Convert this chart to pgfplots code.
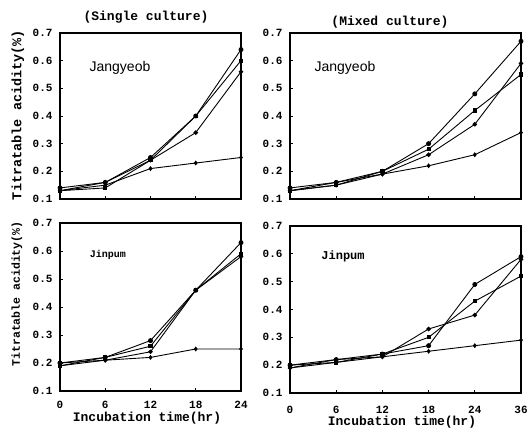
\documentclass[border=0pt]{standalone}
\usepackage{fontspec}
\setmainfont{Liberation Mono}
\newfontfamily\sans{Liberation Sans}
\usepackage{pgfplots}
\pgfplotsset{compat=1.18}
\pgfplotsset{
  panel/.style={
    scale only axis, anchor=south west,
    ymin=0.1, ymax=0.7, ytick={0.1,0.2,...,0.7},
    axis line style={line width=1.6pt}, tick style={line width=0.8pt, black},
    major tick length=3pt, xtick pos=bottom, ytick pos=left,
    tick align=inside,
    /pgf/number format/assume math mode=true,
    ticklabel style={font=\fontsize{11}{12}\selectfont\bfseries},
    yticklabel style={/pgf/number format/fixed, /pgf/number format/fixed zerofill, /pgf/number format/precision=1, xshift=-4pt},
    every axis plot/.append style={black, line width=0.9pt, mark options={solid}},
  },
  s1/.style={mark=diamond*, mark size=1.8pt},
  s2/.style={mark=*, mark size=2pt},
  s3/.style={mark=square*, mark size=1.6pt},
  s4/.style={mark=*, mark size=1.8pt},
}
\begin{document}
\begin{tikzpicture}[x=1pt,y=1pt]
\useasboundingbox (0,0) rectangle (532,438);
% single culture, Jangyeob
\begin{axis}[panel, at={(60pt,239pt)}, width=181pt, height=166pt,
  xmin=0, xmax=24, xtick={0,6,12,18,24}, xticklabels={}]
\addplot[s1] coordinates {(0,0.13) (6,0.15) (12,0.21) (18,0.23) (24,0.25)};
\addplot[s2] coordinates {(0,0.14) (6,0.16) (12,0.25) (18,0.40) (24,0.64)};
\addplot[s3] coordinates {(0,0.13) (6,0.14) (12,0.24) (18,0.40) (24,0.60)};
\addplot[s4] coordinates {(0,0.13) (6,0.16) (12,0.24) (18,0.34) (24,0.56)};
\end{axis}
% mixed culture, Jangyeob
\begin{axis}[panel, at={(290pt,239pt)}, width=231pt, height=166pt,
  xmin=0, xmax=5, xtick={0,...,5}, xticklabels={}]
\addplot[s1] coordinates {(0,0.13) (1,0.15) (2,0.19) (3,0.22) (4,0.26) (5,0.34)};
\addplot[s2] coordinates {(0,0.14) (1,0.16) (2,0.20) (3,0.30) (4,0.48) (5,0.67)};
\addplot[s3] coordinates {(0,0.13) (1,0.15) (2,0.20) (3,0.28) (4,0.42) (5,0.55)};
\addplot[s4] coordinates {(0,0.13) (1,0.16) (2,0.19) (3,0.26) (4,0.37) (5,0.59)};
\end{axis}
% single culture, Jinpum
\begin{axis}[panel, at={(60pt,47pt)}, width=181pt, height=168pt,
  xmin=0, xmax=24, xtick={0,6,12,18,24},
  xticklabel style={yshift=-7pt}]
\addplot[s1] coordinates {(0,0.19) (6,0.21) (12,0.22) (18,0.25) (24,0.25)};
\addplot[s2] coordinates {(0,0.20) (6,0.22) (12,0.28) (18,0.46) (24,0.63)};
\addplot[s3] coordinates {(0,0.19) (6,0.22) (12,0.26) (18,0.46) (24,0.59)};
\addplot[s4] coordinates {(0,0.20) (6,0.21) (12,0.24) (18,0.46) (24,0.58)};
\end{axis}
% mixed culture, Jinpum
\begin{axis}[panel, at={(290pt,45pt)}, width=231pt, height=167pt,
  xmin=0, xmax=5, xtick={0,...,5}, xticklabels={0,6,12,18,24,36},
  xticklabel style={yshift=-10pt}]
\addplot[s1] coordinates {(0,0.19) (1,0.21) (2,0.23) (3,0.25) (4,0.27) (5,0.29)};
\addplot[s2] coordinates {(0,0.20) (1,0.22) (2,0.24) (3,0.27) (4,0.49) (5,0.59)};
\addplot[s3] coordinates {(0,0.20) (1,0.21) (2,0.24) (3,0.30) (4,0.43) (5,0.52)};
\addplot[s4] coordinates {(0,0.19) (1,0.22) (2,0.23) (3,0.33) (4,0.38) (5,0.58)};
\end{axis}
% panel texts
\node[font=\sans\fontsize{14}{15}\selectfont] at (120,370) {Jangyeob};
\node[font=\sans\fontsize{14}{15}\selectfont] at (345,370) {Jangyeob};
\node[font=\fontsize{10}{11}\selectfont\bfseries] at (108,183) {Jinpum};
\node[font=\fontsize{12}{13}\selectfont\bfseries] at (343,182) {Jinpum};
% titles and axis labels
\node[font=\fontsize{13}{14}\selectfont\bfseries] at (146,421) {(Single culture)};
\node[font=\fontsize{13}{14}\selectfont\bfseries] at (390,416) {(Mixed culture)};
\node[font=\fontsize{13.5}{14}\selectfont\bfseries, rotate=90] at (18,323) {Titratable acidity(\%)};
\node[font=\fontsize{11.5}{12}\selectfont\bfseries, rotate=90] at (17,144) {Titratable acidity(\%)};
\node[font=\fontsize{13}{14}\selectfont\bfseries] at (147,20) {Incubation time(hr)};
\node[font=\fontsize{13}{14}\selectfont\bfseries] at (402,16) {Incubation time(hr)};
\end{tikzpicture}
\end{document}
